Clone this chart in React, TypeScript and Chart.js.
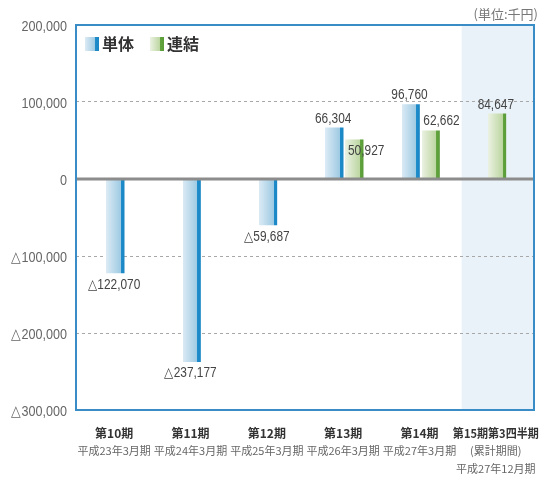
import React, { useEffect, useRef } from 'react';
import { Chart, registerables } from 'chart.js';

Chart.register(...registerables);

// ---- data ----
const periods = ['第10期', '第11期', '第12期', '第13期', '第14期', '第15期第3四半期'];
const subLabels = [
  ['平成23年3月期'],
  ['平成24年3月期'],
  ['平成25年3月期'],
  ['平成26年3月期'],
  ['平成27年3月期'],
  ['(累計期間)', '平成27年12月期'],
];
const seriesNames = ['単体', '連結'];
const tankaiValues: (number | null)[] = [-122070, -237177, -59687, 66304, 96760, null];
const renketsuValues: (number | null)[] = [null, null, null, 50927, 62662, 84647];
const yMin = -300000;
const yMax = 200000;
const yStep = 100000;
const unitLabel = '(単位:千円)';

// ---- styles ----
const labelOffsets: Record<string, [number, number]> = {
  '1-3': [13, 11],
  '1-4': [12, -10],
};
const barStops: [number, string][][] = [
  [
    [0, 'rgba(255,255,255,0)'],
    [0.1, 'rgba(255,255,255,0)'],
    [0.1, '#dcebf5'],
    [0.84, '#9ecae3'],
    [0.84, '#1f8ccb'],
    [1, '#1a86c4'],
  ],
  [
    [0, 'rgba(255,255,255,0)'],
    [0.1, 'rgba(255,255,255,0)'],
    [0.1, '#ecf2e3'],
    [0.84, '#bcd6a1'],
    [0.84, '#62a43f'],
    [1, '#5a9c38'],
  ],
];
const legendStops: [number, string][][] = [
  [
    [0, '#dcebf5'],
    [0.7, '#9ecae3'],
    [0.7, '#1f8ccb'],
    [1, '#1a86c4'],
  ],
  [
    [0, '#ecf2e3'],
    [0.7, '#bcd6a1'],
    [0.7, '#62a43f'],
    [1, '#5a9c38'],
  ],
];
const numFont = '"Liberation Sans", Arial, sans-serif';
const jpFont = '"Noto Sans CJK JP", sans-serif';

const fmt = (v: number) => {
  const s = Math.abs(v).toLocaleString('en-US');
  return v < 0 ? '△' + s : s;
};

const narrowText = (ctx: CanvasRenderingContext2D, text: string, x: number, y: number, squeeze: number) => {
  const w = ctx.measureText(text).width;
  ctx.fillText(text, x, y, w * squeeze);
};

const decorPlugin = {
  id: 'decor',
  afterUpdate(chart: any) {
    const ctx = chart.ctx;
    chart.data.datasets.forEach((_ds: any, di: number) => {
      const meta = chart.getDatasetMeta(di);
      meta.data.forEach((el: any) => {
        const { x, width } = el.getProps(['x', 'width'], true);
        if (!isFinite(x) || !isFinite(width)) return;
        const l = x - width / 2;
        const g = ctx.createLinearGradient(l, 0, l + width, 0);
        barStops[di].forEach(([o, c]) => g.addColorStop(o, c));
        el.options = Object.assign({}, el.options, { backgroundColor: g });
      });
    });
  },
  beforeDraw(chart: any) {
    const { ctx, chartArea } = chart;
    const xs = chart.scales.x;
    const start = (xs.getPixelForTick(4) + xs.getPixelForTick(5)) / 2 + 4;
    ctx.save();
    ctx.fillStyle = '#eaf2f9';
    ctx.fillRect(start, chartArea.top, chartArea.right - start, chartArea.bottom - chartArea.top);
    ctx.restore();
  },
  afterDatasetsDraw(chart: any) {
    const { ctx, chartArea } = chart;
    const ys = chart.scales.y;
    const xs = chart.scales.x;
    ctx.save();
    // zero line
    const y0 = ys.getPixelForValue(0);
    ctx.strokeStyle = '#8c8c8c';
    ctx.lineWidth = 3;
    ctx.beginPath();
    ctx.moveTo(chartArea.left, y0);
    ctx.lineTo(chartArea.right, y0);
    ctx.stroke();

    // y tick labels
    ctx.font = `15px ${numFont}`;
    ctx.fillStyle = '#666';
    ctx.textAlign = 'right';
    ctx.textBaseline = 'middle';
    ys.ticks.forEach((t: any) => {
      const y = ys.getPixelForValue(t.value);
      const txt = fmt(t.value);
      const w = ctx.measureText(txt).width * 0.84;
      ctx.fillText(txt, chartArea.left - 9, y + 2, w);
    });

    // value labels
    ctx.font = `14px ${numFont}`;
    ctx.fillStyle = '#444';
    ctx.textAlign = 'center';
    chart.data.datasets.forEach((ds: any, di: number) => {
      const meta = chart.getDatasetMeta(di);
      meta.data.forEach((el: any, i: number) => {
        const v = ds.data[i];
        if (v === null || v === undefined) return;
        const { x, y } = el.getProps(['x', 'y'], true);
        const off = labelOffsets[`${di}-${i}`];
        const dx = off ? off[0] : 0;
        const dy = off ? off[1] : v >= 0 ? -9 : 12;
        narrowText(ctx, fmt(v), x + dx, y + dy, 0.85);
      });
    });

    // frame
    ctx.strokeStyle = '#3a8cc6';
    ctx.lineWidth = 2;
    ctx.strokeRect(chartArea.left, chartArea.top, chartArea.right - chartArea.left, chartArea.bottom - chartArea.top);

    // legend
    let lx = chartArea.left + 9;
    const ly = chartArea.top + 12;
    ctx.font = `bold 16px ${jpFont}`;
    ctx.textAlign = 'left';
    seriesNames.forEach((name, di) => {
      const g = ctx.createLinearGradient(lx, 0, lx + 14, 0);
      legendStops[di].forEach(([o, c]) => g.addColorStop(o, c));
      ctx.fillStyle = g;
      ctx.fillRect(lx, ly, 14, 14);
      ctx.fillStyle = '#333';
      ctx.fillText(name, lx + 17, ly + 7);
      lx += 17 + ctx.measureText(name).width + 16;
    });

    // x labels
    ctx.textAlign = 'center';
    periods.forEach((p, i) => {
      const x = xs.getPixelForTick(i);
      ctx.font = `bold 12px ${jpFont}`;
      ctx.fillStyle = '#333';
      ctx.fillText(p, x, chartArea.bottom + 23, 86);
      ctx.font = `11px ${jpFont}`;
      ctx.fillStyle = '#666';
      subLabels[i].forEach((s, k) => {
        ctx.fillText(s, x, chartArea.bottom + 41 + k * 18);
      });
    });

    // unit label
    ctx.font = `13px ${jpFont}`;
    ctx.fillStyle = '#777';
    ctx.textAlign = 'right';
    ctx.fillText(unitLabel, 538, 14);
    ctx.restore();
  },
};

export default function App() {
  const ref = useRef<HTMLCanvasElement | null>(null);
  useEffect(() => {
    document.body.style.margin = '0';
    if (!ref.current) return;
    const chart = new Chart(ref.current, {
      type: 'bar',
      data: {
        labels: periods,
        datasets: [
          { label: seriesNames[0], data: tankaiValues as any, backgroundColor: '#9ecae3', barThickness: 20, skipNull: true } as any,
          { label: seriesNames[1], data: renketsuValues as any, backgroundColor: '#bcd6a1', barThickness: 20, skipNull: true } as any,
        ],
      },
      options: {
        responsive: false,
        animation: false,
        layout: { padding: { left: 0, right: 15, top: 25, bottom: 0 } },
        plugins: { legend: { display: false }, tooltip: { enabled: false } },
        scales: {
          x: {
            grid: { display: false },
            border: { display: false },
            ticks: { display: false },
            afterFit: (s: any) => { s.height = 70; },
          },
          y: {
            min: yMin,
            max: yMax,
            border: { display: false, dash: [3, 3] },
            grid: {
              drawTicks: false,
              color: (c: any) => {
                const v = c.tick?.value;
                return v === 0 || v === yMin || v === yMax ? 'rgba(0,0,0,0)' : '#a8a8a8';
              },
              lineWidth: 1,
            },
            ticks: {
              stepSize: yStep,
              display: false,
            },
            afterFit: (s: any) => { s.width = 76; },
          },
        },
      },
      plugins: [decorPlugin],
    });
    return () => chart.destroy();
  }, []);
  return (
    <div style={{ width: 549, height: 480 }}>
      <canvas ref={ref} width={549} height={480} />
    </div>
  );
}
